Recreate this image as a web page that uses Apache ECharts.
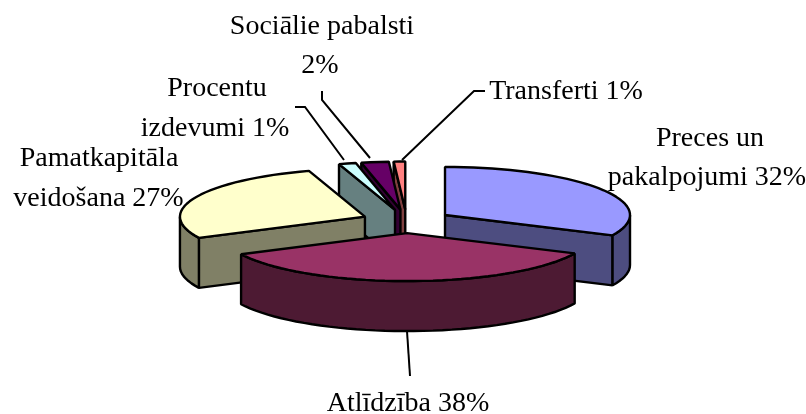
<!DOCTYPE html>
<html>
<head>
<meta charset="utf-8">
<style>html,body{margin:0;padding:0;background:#fff}#c{width:806px;height:414px}</style>
<script src="https://cdn.jsdelivr.net/npm/echarts@6/dist/echarts.min.js"></script>
</head>
<body>
<div id="c"></div>
<script>
// Printed percentages, and the wedge sizes as actually measured on the drawing
// (the picture's wedges differ slightly from the rounded printed labels).
const categories = ["Preces un pakalpojumi", "Atlīdzība", "Pamatkapitāla veidošana", "Procentu izdevumi", "Sociālie pabalsti", "Transferti"];
const printedPercent = [32, 38, 27, 1, 2, 1];
const wedgeShare = [32, 35.8, 27.4, 1.5, 2.4, 1.0];
const topColors = ["#9999FF", "#993366", "#FFFFCC", "#CCFFFF", "#660066", "#FF8080"];
const sideColors = ["#4D4D80", "#4D1A33", "#808066", "#668080", "#330033", "#804040"];
const labelLines = [["Preces un", "pakalpojumi 32%"], ["Atlīdzība 38%"], ["Pamatkapitāla", "veidošana 27%"], ["Procentu", "izdevumi 1%"], ["Sociālie pabalsti", "2%"], ["Transferti 1%"]];
const labelSpots = [[[710, 146], [707, 185]], [[408, 411]], [[99, 166], [98.5, 206]], [[217, 96], [215, 136]], [[322, 34], [320, 73]], [[566, 99]]];
const leaderLines = [
  [[402, 160], [474, 91], [485, 91]],
  [[370, 158], [322, 100], [322, 91]],
  [[344, 160], [305, 107], [295, 107]],
  [[407, 331], [410, 376]]
];

const pie = { cx: 406.7, cy: 221.3, a: 185, b: 48, depth: 50, explode: 45.4 };
const total = wedgeShare.reduce((s, v) => s + v, 0);
const RAD = Math.PI / 180;

const spans = [];
wedgeShare.reduce((acc, v) => {
  const next = acc + v / total * 360;
  spans.push([acc, next]);
  return next;
}, 0);
const apexes = spans.map(([s, e]) => {
  const m = (s + e) / 2 * RAD;
  return [pie.cx + pie.explode * Math.sin(m), pie.cy - pie.explode * pie.b / pie.a * Math.cos(m)];
});
const order = apexes.map((p, i) => [p[1], i]).sort((x, y) => x[0] - y[0]).map(x => x[1]);

function rimPoint(apex, deg) {
  return [apex[0] + pie.a * Math.sin(deg * RAD), apex[1] - pie.b * Math.cos(deg * RAD)];
}
function down(p) { return [p[0], p[1] + pie.depth]; }
function arc(apex, from, to) {
  const pts = [];
  const n = Math.max(1, Math.ceil((to - from) / 3));
  for (let k = 0; k <= n; k++) pts.push(rimPoint(apex, from + (to - from) * k / n));
  return pts;
}
const edge = { stroke: "#000", lineWidth: 2.4, lineJoin: "bevel" };

function renderItem(params, api) {
  const i = params.dataIndex;
  const [s, e] = spans[i];
  const apex = apexes[i];
  const rank = order.indexOf(i) * 10;
  const children = [];
  const wall = (pts, k) => children.push({
    type: "polygon", z2: rank + k, shape: { points: pts },
    style: Object.assign({ fill: sideColors[i] }, edge)
  });
  const radial = (deg, k) => {
    const r = rimPoint(apex, deg);
    wall([apex, r, down(r), down(apex)], k);
  };
  if (Math.sin(s * RAD) < -1e-6) radial(s, 1);
  if (Math.sin(e * RAD) > 1e-6) radial(e, 2);
  const lo = Math.max(s, 90), hi = Math.min(e, 270);
  if (hi > lo) {
    const top = arc(apex, lo, hi);
    wall(top.concat(top.map(down).reverse()), 3);
  }
  children.push({
    type: "polygon", z2: rank + 5, shape: { points: [apex].concat(arc(apex, s, e)) },
    style: Object.assign({ fill: topColors[i] }, edge)
  });
  return { type: "group", children };
}

const descent = 6.5;
const texts = [];
labelLines.forEach((lines, i) => lines.forEach((t, j) => texts.push({
  type: "text", x: labelSpots[i][j][0], y: labelSpots[i][j][1] + descent, z: 20,
  style: { text: t, fill: "#000", font: '28px "Liberation Serif"', align: "center", verticalAlign: "bottom" }
})));
const leaders = leaderLines.map(pts => ({
  type: "polyline", z: 10, shape: { points: pts },
  style: { stroke: "#000", lineWidth: 2, fill: null }
}));

const chart = echarts.init(document.getElementById("c"), null, { renderer: "canvas" });
chart.setOption({
  animation: false,
  backgroundColor: "#fff",
  graphic: texts.concat(leaders),
  series: [{
    type: "custom",
    name: "Izdevumi",
    coordinateSystem: "none",
    renderItem,
    silent: true,
    data: categories.map((c, i) => ({ name: c, value: [wedgeShare[i], printedPercent[i]] }))
  }]
});
</script>
</body>
</html>
